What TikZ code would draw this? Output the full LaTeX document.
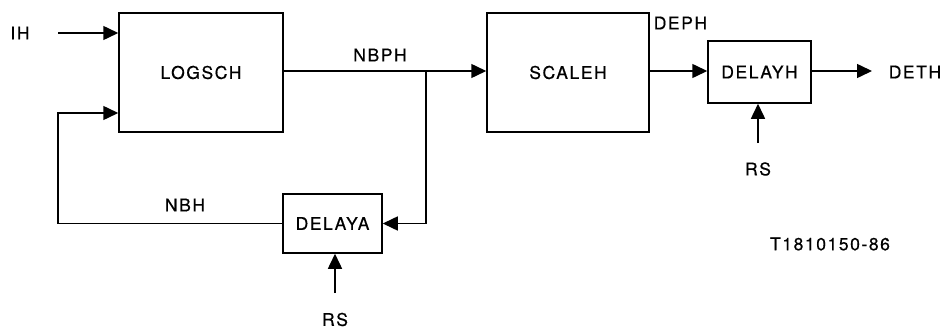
\documentclass[tikz,border=0pt]{standalone}
\usepackage{fontspec}
\setmainfont{TeX Gyre Heros}[LetterSpace=9,FakeBold=0.6]
\usetikzlibrary{arrows.meta,calc}
\begin{document}
\begin{tikzpicture}[x=1pt,y=-1pt,
  line width=1.5pt,
  every node/.style={font=\fontsize{17.5}{20}\selectfont, inner sep=0pt},
  blk/.style={draw, line width=1.5pt},
  lbl/.style={},
  arr/.style={-{Triangle[length=15pt,width=14pt]}}
]
\useasboundingbox (0,0) rectangle (948,329);
% blocks
\node[blk, minimum width=164pt, minimum height=119pt] (logsch) at (201,72.5) {LOGSCH};
\node[blk, minimum width=162pt, minimum height=119pt] (scaleh) at (568,72.5) {SCALEH};
\node[blk, minimum width=99pt, minimum height=59pt] (delaya) at (332.5,223.5) {DELAYA};
\node[blk, minimum width=103pt, minimum height=62pt] (delayh) at (759.5,72) {DELAYH};
% labels
\node[lbl] (ih) at (20,33) {IH};
\node[lbl] (nbh) at (185,205) {NBH};
\node[lbl] (nbph) at (380,55) {NBPH};
\node[lbl, anchor=west] (deph) at (653,23) {DEPH};
\node[lbl, anchor=west] (deth) at (888,72) {DETH};
\node[lbl] (rsa) at (335,319.5) {RS};
\node[lbl] (rsh) at (758,169) {RS};
\node[lbl] (code) at (830,244) {T1810150-86};
% coordinates
\coordinate (ihs) at (58,33);
\coordinate (fbc) at (58,113);
\coordinate (jn) at (426,71);
\coordinate (outend) at (872,71);
\coordinate (rsas) at (335,293);
\coordinate (rshs) at (758,143);
% connectors
\draw[arr] (ihs) -- (ihs -| logsch.west);
\draw[arr] (delaya.west) -| (fbc) -- (fbc -| logsch.west);
\draw[arr] (jn -| logsch.east) -- (jn -| scaleh.west);
\draw[arr] (jn) |- (delaya.east);
\draw[arr] (jn -| scaleh.east) -- (jn -| delayh.west);
\draw[arr] (jn -| delayh.east) -- (outend);
\draw[arr] (rsas) -- (rsas |- delaya.south);
\draw[arr] (rshs) -- (rshs |- delayh.south);
\end{tikzpicture}
\end{document}
